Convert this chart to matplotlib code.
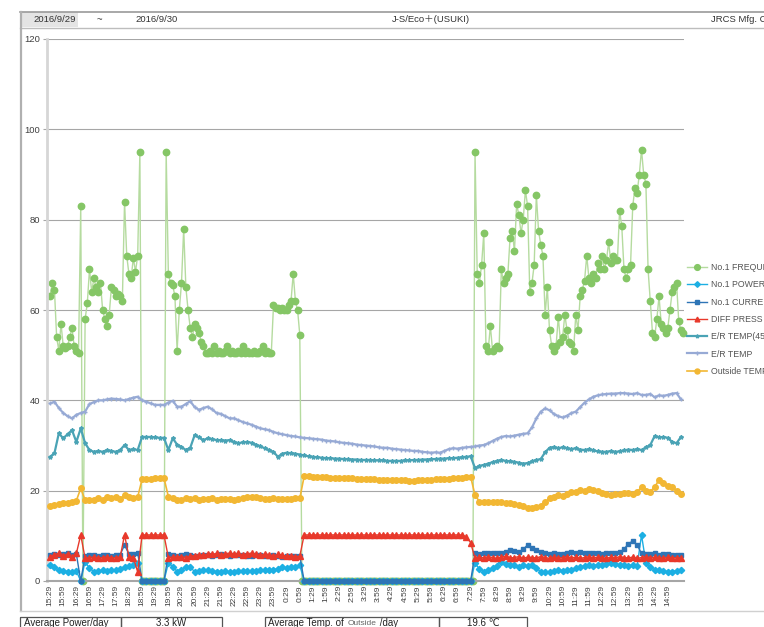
import numpy as np
import matplotlib
matplotlib.use("Agg")
import matplotlib.pyplot as plt
from matplotlib.patches import Rectangle

plt.rcParams['font.family'] = ['Liberation Sans', 'DejaVu Sans', 'Noto Sans CJK JP']

# ─── DATA ────────────────────────────────────────────────────────────────────
# frequency sampled every 5 min from 15:29, the other series every 10 min

freq = ([63, 66, 64.5, 54, 51, 57, 52, 51.5, 52, 54, 56, 52, 51, 50.5, 83, 0,
         58, 61.5, 69, 64, 67, 65, 64, 66, 60, 58, 56.5, 59, 65, 64.5, 63, 63.5,
         63, 62, 84, 72, 68, 67, 71.5, 68.5, 72, 95]
        + [0] * 11
        + [95, 68, 66, 65.5, 63, 51, 60, 66, 78, 65, 60, 56, 54, 57, 56, 55, 53, 52, 50.5,
           50.5, 51, 50.5, 52, 50.5, 51, 50.5, 50.5, 51, 52,
           50.5, 51, 50.5, 50.5, 51, 50.5, 52, 50.5, 51, 50.5,
           50.5, 51, 50.5, 50.5, 51, 52, 50.5, 51, 50.5, 50.5,
           61, 60.5, 60.5, 60, 60.5, 60, 60, 61, 62, 68, 62, 60, 54.5]
        + [0] * 79
        + [95, 68, 66, 70, 77, 52, 51, 56.5, 51, 51.5, 52, 51.5,
           69, 66, 67, 68, 76, 77.5, 73, 83.5, 81, 77,
           80, 86.5, 83, 64, 66, 70, 85.5, 77.5, 74.5, 72,
           59, 65, 55.5, 52, 51, 52, 58.5, 53, 54, 59,
           55.5, 53, 52.5, 51, 59, 55.5, 63, 64.5, 66.5, 72,
           67, 66, 68, 67, 70.5, 69, 72, 69, 71, 75,
           70.5, 72, 71, 71, 82, 78.5, 69, 67, 69, 70,
           83, 87, 86, 90, 95.5, 90, 88, 69, 62, 55,
           54, 58, 63, 57, 56, 55, 56, 60, 64, 65,
           66, 57.5, 55.5, 55])

power = ([3.5, 3.0, 2.4, 2.3, 2.1, 2.0, 2.2, 0.0, 4.3, 2.8, 2.1, 2.2, 2.4, 2.3, 2.4,
          2.5, 2.6, 3.2, 3.4, 3.6, 4.0]
         + [0] * 6
         + [4.0, 3.2, 2.1, 2.5, 3.2, 3.0, 2.1, 2.3, 2.5, 2.4,
            2.2, 2.1, 2.1, 2.2, 2.0, 2.1, 2.2, 2.3, 2.3, 2.2,
            2.3, 2.4, 2.4, 2.5, 2.5, 2.7, 3.0, 2.9, 3.0, 3.1, 3.5]
         + [0] * 39
         + [4.0, 2.6, 2.1, 2.4, 2.8, 3.4, 4.3, 3.8, 3.5, 3.6, 3.2, 3.5,
            3.3, 3.6, 2.8, 2.1, 2.0, 2.1, 2.2, 2.4, 2.3, 2.4, 2.5, 2.9,
            3.2, 3.3, 3.5, 3.4, 3.6, 3.5, 3.8, 3.9, 3.7, 3.5, 3.6, 3.4,
            3.5, 3.3, 10.2, 4.0, 3.2, 2.4, 2.5, 2.2, 2.1, 2.1, 2.3, 2.5])

current = ([5.8, 6.0, 5.7, 5.9, 6.2, 5.8, 6.0, 0.0, 5.6, 5.7,
            5.8, 5.6, 5.7, 5.8, 5.6, 5.7, 5.8, 8.0, 5.9, 6.0, 6.3]
           + [0] * 6
           + [6.0, 5.7, 5.6, 5.8, 5.9, 5.7, 5.6, 5.5, 5.7, 5.8,
              5.6, 5.7, 5.9, 5.8, 5.6, 5.7, 5.8, 5.7, 5.6, 5.5,
              5.7, 5.8, 5.6, 5.5, 5.7, 5.6, 5.4, 5.5, 5.6, 5.5, 5.6]
           + [0] * 39
           + [6.1, 6.0, 6.2, 6.1, 6.3, 6.1, 6.2, 6.5, 6.9, 6.6, 6.4, 7.0,
              8.0, 7.2, 6.9, 6.5, 6.1, 6.0, 6.2, 5.9, 6.0, 6.3, 6.5, 6.2,
              6.4, 6.1, 6.3, 6.2, 6.1, 6.0, 6.2, 6.1, 6.3, 6.4, 7.0, 8.3,
              8.8, 8.0, 6.1, 6.0, 5.9, 6.1, 5.8, 6.0, 5.9, 5.8, 5.7, 5.7])

diff_press = ([5.4, 5.8, 6.2, 5.5, 6.0, 5.3, 6.1, 10.2, 5.0, 5.2,
               5.3, 5.1, 5.2, 5.3, 5.1, 5.2, 5.3, 10.2, 5.4, 5.2, 2.0]
              + [10.2] * 6
              + [5.2, 5.3,
                 5.3, 5.4, 5.2, 5.5, 5.6, 5.8, 5.7, 6.0, 5.9, 6.1,
                 5.8, 6.0, 6.2, 5.9, 6.1, 5.8, 6.0, 6.2, 5.9, 5.7,
                 6.0, 5.8, 5.6, 5.9, 5.7, 5.5, 5.6, 5.4, 5.5]
              + [10.2] * 37
              + [9.8, 8.5,
                 5.0, 5.3, 5.1, 5.4, 5.2, 5.0, 5.3, 5.5, 5.1, 5.2, 5.4, 5.0,
                 5.3, 5.2, 5.1, 5.4, 5.2, 5.0, 5.3, 5.1, 5.2, 5.4, 5.1, 5.3,
                 5.0, 5.2, 5.4, 5.1, 5.3, 5.2, 5.0, 5.3, 5.1, 5.4, 5.2, 5.1,
                 5.3, 5.0, 5.2, 5.4, 5.1, 5.3, 5.2, 5.0, 5.3, 5.1, 5.2, 5.1])

er_temp45 = [27.5, 28.3, 32.7, 31.6, 32.5, 33.4, 30.8, 33.8, 30.5, 29.0,
             28.6, 28.8, 28.6, 29.0, 28.8, 28.6, 29.0, 30.1, 29.0, 29.2,
             29.0, 31.9, 31.9, 31.9, 31.8, 31.7, 31.7, 29.0, 31.6, 30.2,
             29.7, 29.0, 29.5, 32.3, 31.8, 31.2, 31.6, 31.4, 31.2, 31.2,
             31.1, 31.2, 30.8, 30.5, 30.7, 30.8, 30.6, 30.2, 29.8, 29.4,
             29.0, 28.6, 27.5, 28.2, 28.4, 28.3, 28.2, 28.0, 27.8, 27.6,
             27.5, 27.4, 27.3, 27.2, 27.2, 27.1, 27.1, 27.0, 27.0, 26.9,
             26.9, 26.8, 26.8, 26.8, 26.7, 26.7, 26.7, 26.6, 26.6, 26.6,
             26.6, 26.7, 26.7, 26.8, 26.8, 26.9, 26.9, 27.0, 27.0, 27.1,
             27.1, 27.2, 27.2, 27.3, 27.4, 27.5, 27.6, 25.0, 25.5, 25.7,
             26.0, 26.3, 26.6, 26.8, 26.6, 26.5, 26.4, 26.2, 26.0, 26.1,
             26.5, 26.8, 27.0, 28.5, 29.5, 29.7, 29.4, 29.6, 29.4, 29.2,
             29.4, 29.1, 29.0, 29.2, 28.9, 28.7, 28.6, 28.6, 28.8, 28.6,
             28.7, 28.9, 29.1, 29.0, 29.2, 29.0, 29.6, 30.1, 32.1, 31.8,
             31.9, 31.7, 30.8, 30.5, 31.9]

er_temp = [39.3, 39.7, 38.3, 37.2, 36.5, 36.0, 36.8, 37.2, 37.5, 39.2,
           39.6, 40.0, 40.0, 40.2, 40.4, 40.3, 40.2, 40.0, 40.3, 40.6,
           40.8, 40.0, 39.7, 39.3, 39.0, 39.0, 39.0, 39.5, 39.9, 38.6,
           38.6, 39.2, 39.8, 38.5, 37.9, 38.3, 38.6, 38.0, 37.2, 37.0,
           36.5, 36.0, 36.0, 35.6, 35.2, 34.9, 34.6, 34.2, 33.8, 33.6,
           33.4, 33.0, 32.7, 32.5, 32.3, 32.1, 32.0, 31.8, 31.7, 31.6,
           31.5, 31.4, 31.3, 31.1, 31.0, 30.9, 30.7, 30.6, 30.5, 30.4,
           30.2, 30.1, 30.0, 29.9, 29.8, 29.6, 29.5, 29.5, 29.3, 29.2,
           29.1, 29.0, 28.9, 28.8, 28.8, 28.6, 28.5, 28.4, 28.5, 28.4,
           28.8, 29.2, 29.4, 29.3, 29.5, 29.6, 29.7, 29.8, 30.0, 30.1,
           30.5, 31.0, 31.5, 31.9, 32.1, 32.0, 32.2, 32.4, 32.6, 32.7,
           34.0, 36.0, 37.5, 38.2, 37.8, 37.0, 36.5, 36.2, 36.6, 37.2,
           37.5, 38.5, 39.5, 40.2, 40.8, 41.1, 41.3, 41.4, 41.5, 41.5,
           41.6, 41.6, 41.5, 41.4, 41.6, 41.2, 41.2, 41.4, 40.7, 41.1,
           41.0, 41.2, 41.5, 41.6, 40.2]

outside_temp = [16.5, 16.8, 17.0, 17.2, 17.3, 17.5, 17.8, 20.5, 17.9, 18.0,
                17.9, 18.3, 17.9, 18.5, 18.3, 18.6, 18.2, 19.0, 18.5, 18.3,
                18.6, 22.5, 22.6, 22.6, 22.7, 22.7, 22.8, 18.7, 18.3, 17.9,
                18.0, 18.3, 18.1, 18.3, 18.0, 18.2, 18.1, 18.3, 18.0, 18.1,
                18.2, 18.1, 18.0, 18.2, 18.3, 18.5, 18.7, 18.5, 18.3, 18.2,
                18.2, 18.3, 18.2, 18.1, 18.1, 18.2, 18.3, 18.3, 23.2, 23.2,
                23.1, 23.1, 23.0, 23.0, 22.9, 22.9, 22.8, 22.8, 22.7, 22.7,
                22.6, 22.6, 22.6, 22.5, 22.5, 22.4, 22.4, 22.4, 22.3, 22.3,
                22.3, 22.3, 22.2, 22.2, 22.3, 22.3, 22.4, 22.4, 22.5, 22.5,
                22.6, 22.6, 22.7, 22.8, 22.9, 23.0, 23.1, 19.0, 17.6, 17.6,
                17.5, 17.4, 17.5, 17.6, 17.3, 17.2, 17.0, 16.8, 16.5, 16.2,
                16.1, 16.4, 16.6, 17.5, 18.3, 18.6, 19.0, 18.8, 19.3, 19.6,
                19.8, 20.1, 19.9, 20.3, 20.2, 19.9, 19.4, 19.3, 19.0, 19.3,
                19.2, 19.4, 19.5, 19.3, 19.6, 20.9, 20.0, 19.8, 20.8, 22.4,
                21.6, 21.0, 20.9, 20.0, 19.2]

tick_labels = ["15:29", "15:59", "16:29", "16:59", "17:29", "17:59", "18:29", "18:59",
               "19:29", "19:59", "20:29", "20:59", "21:29", "21:59", "22:29", "22:59",
               "23:29", "23:59", "0:29", "0:59", "1:29", "1:59", "2:29", "2:59",
               "3:29", "3:59", "4:29", "4:59", "5:29", "5:59", "6:29", "6:59",
               "7:29", "7:59", "8:29", "8:59", "9:29", "9:59", "10:29", "10:59",
               "11:29", "11:59", "12:29", "12:59", "13:29", "13:59", "14:29", "14:59"]

avg_power = "3.3 kW"
avg_outside = "19.6 ℃"

for s in (power, current, diff_press, er_temp45, outside_temp):
    assert len(s) == len(er_temp), len(s)

# ─── FIGURE ──────────────────────────────────────────────────────────────────
W, H = 764, 627
fig = plt.figure(figsize=(W / 100, H / 100), dpi=100)

# page frame drawn in pixel coordinates
frame = fig.add_axes([0, 0, 1, 1])
frame.set_xlim(0, W)
frame.set_ylim(H, 0)
frame.axis("off")
frame.add_patch(Rectangle((21, 12), 57, 15, facecolor="#E4E4E4", edgecolor="none"))
frame.plot([20, W], [12, 12], color="#9A9A9A", lw=1.2)
frame.plot([20, W], [27.5, 27.5], color="#BDBDBD", lw=1.0)
frame.plot([20.5, 20.5], [12, 611], color="#B0B0B0", lw=1.6)
frame.plot([20, W], [611, 611], color="#D0D0D0", lw=1.0)
hdr = dict(fontsize=6.8, color="#333333", va="center")
frame.text(55, 19.5, "2016/9/29", ha="center", **hdr)
frame.text(99, 19.5, "~", ha="center", **hdr)
frame.text(157, 19.5, "2016/9/30", ha="center", **hdr)
frame.text(431, 19.5, "J-S/Eco＋(USUKI)", ha="center", **hdr)
frame.text(711, 19.5, "JRCS Mfg. Co", ha="left", **hdr)

# summary table at the bottom (cut by the page edge)
for x0, x1 in [(20, 121), (121, 222), (265, 439), (439, 527)]:
    frame.add_patch(Rectangle((x0, 617), x1 - x0, 20, facecolor="none",
                              edgecolor="#555555", lw=0.9))
tb = dict(fontsize=7.0, color="#222222", va="center")
frame.text(24, 623.5, "Average Power/day", ha="left", **tb)
frame.text(171, 623.5, avg_power, ha="center", **tb)
frame.text(483, 623.5, avg_outside, ha="center", **tb)

# "Average Temp. of Outside /day" is three runs of text placed end to end
renderer = fig.canvas.get_renderer()
x_run = 268
for txt, size, col in [("Average Temp. of ", 7.0, "#222222"),
                       ("Outside", 6.0, "#666666"),
                       (" /day", 7.0, "#222222")]:
    t = frame.text(x_run, 623.5, txt, ha="left", va="center", fontsize=size, color=col)
    bb = t.get_window_extent(renderer)
    x_run += bb.width + 1

# main chart
ax = fig.add_axes([47 / W, 1 - 581 / H, (684 - 47) / W, (581 - 39) / H])
t_freq = np.arange(len(freq)) * 5
t_10 = np.arange(len(er_temp)) * 10

l_freq, = ax.plot(t_freq, freq, color="#B5DB9F", lw=1.0, marker="o", ms=4.6,
                  mfc="#85C666", mec="#85C666", clip_on=False, zorder=2)
l_pow, = ax.plot(t_10, power, color="#1CAFE3", lw=1.0, marker="D", ms=3.2,
                 mfc="#1CAFE3", mec="#1CAFE3", clip_on=False, zorder=3)
l_cur, = ax.plot(t_10, current, color="#2E75B6", lw=1.0, marker="s", ms=3.4,
                 mfc="#2E75B6", mec="#2E75B6", clip_on=False, zorder=4)
l_dp, = ax.plot(t_10, diff_press, color="#E8392B", lw=1.0, marker="^", ms=3.8,
                mfc="#E8392B", mec="#E8392B", clip_on=False, zorder=5)
l_e45, = ax.plot(t_10, er_temp45, color="#4AA3B5", lw=1.6, marker="*", ms=3,
                 mfc="#4AA3B5", mec="#4AA3B5", clip_on=False, zorder=6)
l_er, = ax.plot(t_10, er_temp, color="#97AAD5", lw=1.6, marker="+", ms=2.5,
                mfc="#97AAD5", mec="#97AAD5", clip_on=False, zorder=7)
l_out, = ax.plot(t_10, outside_temp, color="#F2B733", lw=1.2, marker="o", ms=4.0,
                 mfc="#F2B733", mec="#F2B733", clip_on=False, zorder=8)

ax.set_xlim(-7, 1447)
ax.set_ylim(0, 120)
ax.set_yticks(range(0, 121, 20))
ax.set_xticks(np.arange(len(tick_labels)) * 30)
ax.set_xticklabels(tick_labels, rotation=90, fontsize=6, color="#404040")
ax.tick_params(axis="x", length=0, pad=3)
ax.tick_params(axis="y", length=3, color="#A6A6A6", labelsize=6.8,
               labelcolor="#404040", pad=2)
ax.grid(axis="y", color="#A6A6A6", lw=0.8)
ax.set_axisbelow(True)
for side in ("top", "right"):
    ax.spines[side].set_visible(False)
ax.spines["left"].set_color("#D6D6D6")
ax.spines["left"].set_linewidth(2)
ax.spines["bottom"].set_color("#A6A6A6")
ax.spines["bottom"].set_linewidth(1.5)

handles = [l_freq, l_pow, l_cur, l_dp, l_e45, l_er, l_out]
labels = ["No.1 FREQUENCY", "No.1 POWER", "No.1 CURRENT", "DIFF PRESS",
          "E/R TEMP(45)", "E/R TEMP", "Outside TEMP."]
leg = fig.legend(handles, labels, loc="upper left", bbox_to_anchor=(687 / W, 1 - 263 / H),
                 frameon=False, fontsize=6.3, labelcolor="#555555", handlelength=2.3,
                 handletextpad=0.4, labelspacing=0.95, borderpad=0, borderaxespad=0,
                 markerscale=0.9)

fig.savefig("out.png", dpi=100)
